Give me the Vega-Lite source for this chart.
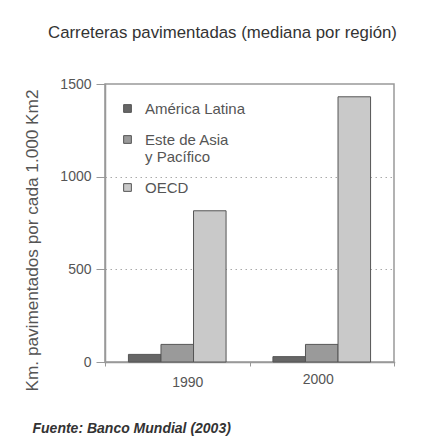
{
  "$schema": "https://vega.github.io/schema/vega-lite/v6.json",
  "autosize": "none",
  "width": 289,
  "height": 278,
  "padding": {"left": 105, "top": 84, "right": 31, "bottom": 79},
  "background": "white",
  "title": {
    "text": "Carreteras pavimentadas (mediana por región)",
    "font": "Liberation Sans",
    "fontSize": 16.8,
    "fontWeight": "normal",
    "color": "#333333",
    "anchor": "middle",
    "dx": -27,
    "offset": 35
  },
  "data": {
    "values": [
      {"year": "1990", "region": "América Latina", "value": 41},
      {"year": "1990", "region": "Este de Asia y Pacífico", "value": 95},
      {"year": "1990", "region": "OECD", "value": 816},
      {"year": "2000", "region": "América Latina", "value": 29},
      {"year": "2000", "region": "Este de Asia y Pacífico", "value": 95},
      {"year": "2000", "region": "OECD", "value": 1431}
    ]
  },
  "mark": {"type": "bar", "stroke": "#555555", "strokeWidth": 1},
  "encoding": {
    "x": {
      "field": "year",
      "type": "nominal",
      "scale": {"paddingInner": 0, "paddingOuter": 0},
      "axis": {
        "labelAngle": 0,
        "labelFont": "Liberation Sans",
        "labelFontSize": 14,
        "labelColor": "#555555",
        "labelOffset": {"expr": "datum.value == '1990' ? 10 : -4"},
        "labelPadding": {"expr": "datum.value == '1990' ? 9 : 6"},
        "tickSize": 4,
        "tickColor": "#999999",
        "tickBand": "extent",
        "domainColor": "#999999",
        "domainWidth": 1.5,
        "title": "Fuente: Banco Mundial (2003)",
        "titleFont": "Liberation Sans",
        "titleFontSize": 14,
        "titleFontStyle": "italic",
        "titleFontWeight": "bold",
        "titleColor": "#333333",
        "titleAnchor": "start",
        "titleAlign": "left",
        "titleBaseline": "middle",
        "titleX": -73,
        "titleY": 66
      }
    },
    "xOffset": {
      "field": "region",
      "type": "nominal",
      "scale": {"paddingInner": 0, "paddingOuter": 0.72}
    },
    "y": {
      "field": "value",
      "type": "quantitative",
      "scale": {"domain": [0, 1500], "nice": false},
      "axis": {
        "values": [0, 500, 1000, 1500],
        "format": "d",
        "labelFont": "Liberation Sans",
        "labelFontSize": 14,
        "labelColor": "#555555",
        "labelPadding": 5,
        "tickSize": 9,
        "tickColor": "#999999",
        "domainColor": "#999999",
        "domainWidth": 1.5,
        "grid": true,
        "gridColor": {"condition": {"test": "datum.value == 0 || datum.value == 1500", "value": "transparent"}, "value": "#aaaaaa"},
        "gridDash": [1.5, 3.5],
        "title": "Km. pavimentados por cada 1.000 Km2",
        "titleFont": "Liberation Sans",
        "titleFontSize": 17.2,
        "titleFontWeight": "normal",
        "titleColor": "#555555",
        "titleX": -73,
        "titleY": 156,
        "titleAngle": -90,
        "titleAlign": "center",
        "titleBaseline": "middle"
      }
    },
    "color": {
      "field": "region",
      "type": "nominal",
      "scale": {
        "domain": ["América Latina", "Este de Asia y Pacífico", "OECD"],
        "range": ["#666666", "#9a9a9a", "#c9c9c9"]
      },
      "legend": {
        "title": null,
        "orient": "none",
        "legendX": 15,
        "legendY": 17,
        "symbolType": "square",
        "symbolSize": 60,
        "symbolStrokeColor": "#555555",
        "symbolStrokeWidth": 1,
        "labelFont": "Liberation Sans",
        "labelFontSize": 15,
        "labelColor": "#555555",
        "labelOffset": 10,
        "rowPadding": 15,
        "labelExpr": "datum.label == 'Este de Asia y Pacífico' ? ['Este de Asia', 'y Pacífico'] : datum.label"
      }
    }
  },
  "config": {
    "view": {"stroke": "#999999", "strokeWidth": 1.5},
    "axis": {"domainCap": "square"}
  }
}
